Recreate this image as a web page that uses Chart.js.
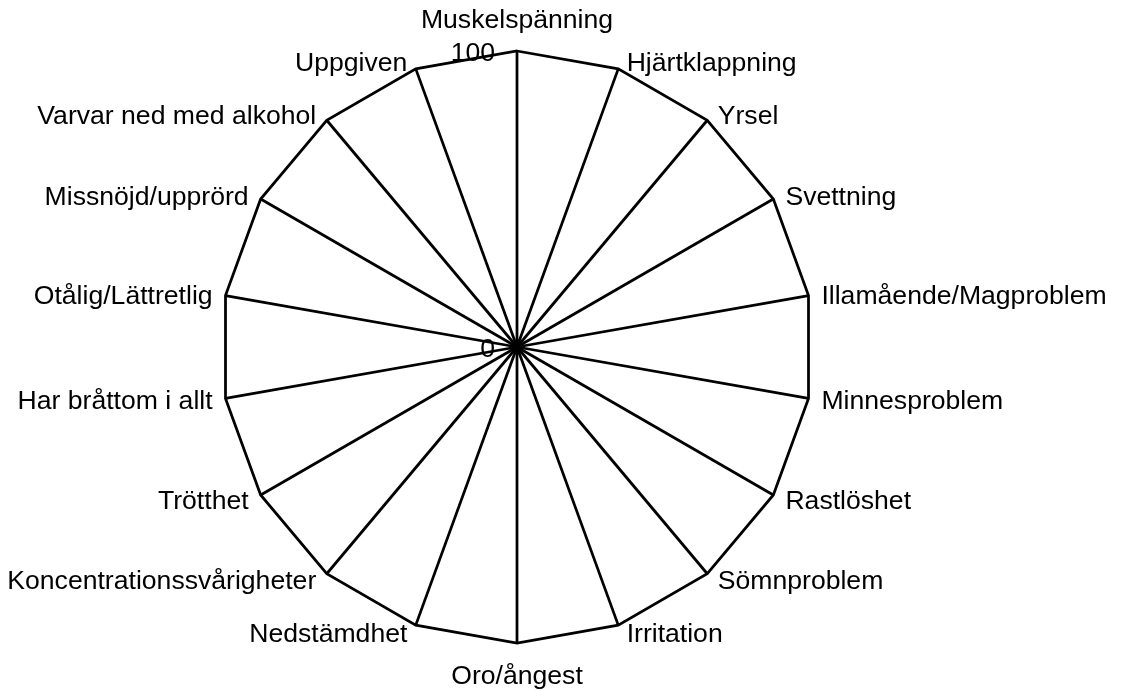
<!DOCTYPE html>
<html>
<head>
<meta charset="utf-8">
<script src="https://cdn.jsdelivr.net/npm/chart.js@4"></script>
<style>
  html, body { margin: 0; padding: 0; background: #fff; }
  #wrap { width: 1123px; height: 691px; }
</style>
</head>
<body>
<div id="wrap"><canvas id="radarChart"></canvas></div>
<script>
// Kategorier (medurs från toppen)
const categories = [
    'Muskelspänning', 'Hjärtklappning', 'Yrsel', 'Svettning',
    'Illamående/Magproblem', 'Minnesproblem', 'Rastlöshet', 'Sömnproblem',
    'Irritation', 'Oro/ångest', 'Nedstämdhet', 'Koncentrationssvårigheter',
    'Trötthet', 'Har bråttom i allt', 'Otålig/Lättretlig', 'Missnöjd/upprörd',
    'Varvar ned med alkohol', 'Uppgiven'
];
// Inga värden syns i diagrammet -> allt noll
const values = [0, 0, 0, 0, 0, 0, 0, 0, 0, 0, 0, 0, 0, 0, 0, 0, 0, 0];
const tickLabels = [0, 100];

const black = '#000000';
const fontFamily = '"Liberation Sans", Arial, sans-serif';
const fontSize = 26.6;
const capHalf = fontSize * 0.358; // halva versalhöjden

// Etiketter runt diagrammet, placerade som i Excel
const labelPlugin = {
    id: 'excelLabels',
    afterDraw(chart) {
        const scale = chart.scales.r;
        const ctx = chart.ctx;
        ctx.save();
        ctx.font = fontSize + 'px ' + fontFamily;
        ctx.fillStyle = black;
        ctx.textBaseline = 'alphabetic';

        chart.data.labels.forEach(function (label, i) {
            const p = scale.getPointPosition(i, scale.drawingArea);
            const a = scale.getIndexAngle(i);
            const s = Math.sin(a);
            const c = Math.cos(a);
            if (Math.abs(s) < 0.01) {
                ctx.textAlign = 'center';
                if (c > 0) {
                    ctx.fillText(label, p.x, p.y - 23);
                } else {
                    ctx.fillText(label, p.x, p.y + 22 + 2 * capHalf);
                }
                return;
            }
            const gap = 6 + 7 * Math.abs(s);
            const y = p.y - 8 * c + capHalf;
            if (s > 0) {
                ctx.textAlign = 'left';
                ctx.fillText(label, p.x + gap, y);
            } else {
                ctx.textAlign = 'right';
                ctx.fillText(label, p.x - gap, y);
            }
        });

        // skalans värden 0 och 100, till vänster om mittlinjen
        ctx.textAlign = 'right';
        tickLabels.forEach(function (v) {
            const d = scale.getDistanceFromCenterForValue(v);
            ctx.fillText(String(v), scale.xCenter - 22, scale.yCenter - d + capHalf);
        });
        ctx.restore();
    }
};

const ctx = document.getElementById('radarChart').getContext('2d');
new Chart(ctx, {
    type: 'radar',
    data: {
        labels: categories,
        datasets: [{
            label: 'Serie 1',
            data: values,
            borderColor: black,
            borderWidth: 2,
            backgroundColor: 'rgba(0,0,0,0)',
            pointRadius: 0,
            fill: false
        }]
    },
    options: {
        responsive: true,
        maintainAspectRatio: false,
        animation: false,
        // ger mittpunkt (517, 347) och radie 296
        layout: { padding: { left: 221, right: 310, top: 51, bottom: 48 } },
        plugins: {
            legend: { display: false },
            tooltip: { enabled: false }
        },
        scales: {
            r: {
                min: 0,
                max: 100,
                ticks: {
                    stepSize: 100,
                    display: false
                },
                grid: {
                    color: black,
                    lineWidth: 2.75
                },
                angleLines: {
                    color: black,
                    lineWidth: 2.75
                },
                pointLabels: {
                    display: false
                }
            }
        }
    },
    plugins: [labelPlugin]
});
</script>
</body>
</html>
